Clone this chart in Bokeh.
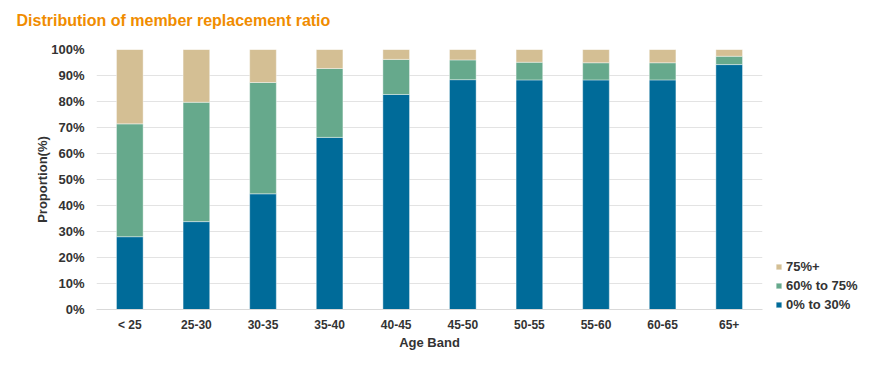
from bokeh.plotting import figure
from bokeh.models import FixedTicker, PrintfTickFormatter, Legend, LegendItem, Title
from bokeh.embed import file_html
from bokeh.resources import INLINE

age_bands = ["< 25", "25-30", "30-35", "35-40", "40-45", "45-50", "50-55", "55-60", "60-65", "65+"]
series_names = ["0% to 30%", "60% to 75%", "75%+"]
low = [28.0, 33.8, 44.5, 66.2, 82.7, 88.4, 88.3, 88.3, 88.3, 94.2]
mid = [43.4, 45.9, 42.8, 26.5, 13.5, 7.6, 6.8, 6.6, 6.6, 3.2]
high = [28.6, 20.3, 12.7, 7.3, 3.8, 4.0, 4.9, 5.1, 5.1, 2.6]
y_ticks = [0, 10, 20, 30, 40, 50, 60, 70, 80, 90, 100]
title_text = "Distribution of member replacement ratio"

colors = ["#006B99", "#66A98C", "#D4BF94"]
FONT = "Liberation Sans"
TXT = "#333333"

p = figure(frame_width=666, frame_height=260, x_range=age_bands, y_range=(0, 100),
           output_backend="svg", toolbar_location=None, title=None,
           min_border_left=96, min_border_right=10, min_border_top=49, min_border_bottom=56)

data = {"band": age_bands, series_names[0]: low, series_names[1]: mid, series_names[2]: high}
rs = p.vbar_stack(series_names, x="band", width=0.4, color=colors, source=data,
                  line_color="white", line_alpha=0.4, line_width=1)

legend = Legend(items=[LegendItem(label=series_names[i], renderers=[rs[i]]) for i in [2, 1, 0]],
                location=(13, -3))
legend.border_line_color = None
legend.background_fill_alpha = 0
legend.label_text_font = FONT
legend.label_text_font_style = "bold"
legend.label_text_font_size = "13px"
legend.label_text_color = TXT
legend.glyph_width = 7
legend.glyph_height = 7
legend.label_standoff = 4
legend.spacing = 3
legend.padding = 0
legend.margin = 0
legend.label_height = 16
p.add_layout(legend, "right")

# spacer between title and plot area
p.add_layout(Title(text=" ", text_font_size="16px", standoff=2), "above")
p.add_layout(Title(text=title_text, text_color="#F08C00", text_font=FONT, text_font_size="16px",
                   text_font_style="bold", offset=-80, standoff=0), "above")

p.yaxis.ticker = FixedTicker(ticks=y_ticks)
p.yaxis.formatter = PrintfTickFormatter(format="%d%%")
p.yaxis.axis_label = "Proportion(%)"
p.xaxis.axis_label = "Age Band"
for ax in (p.xaxis, p.yaxis):
    ax.major_label_text_font = FONT
    ax.major_label_text_font_style = "bold"
    ax.major_label_text_font_size = "13px"
    ax.major_label_text_color = TXT
    ax.axis_label_text_font = FONT
    ax.axis_label_text_font_style = "bold"
    ax.axis_label_text_font_size = "13px"
    ax.axis_label_text_color = TXT
    ax.major_tick_line_color = None
    ax.minor_tick_line_color = None
p.xaxis.major_label_text_font_size = "12px"
p.yaxis.axis_line_color = None
p.xaxis.axis_line_color = "#D9D9D9"
p.xaxis.major_label_standoff = 2
p.yaxis.major_label_standoff = 6
p.xaxis.axis_label_standoff = 0
p.yaxis.axis_label_standoff = -2

p.xgrid.grid_line_color = None
p.ygrid.grid_line_color = "#E3E3E3"
p.outline_line_color = None
p.x_range.range_padding = 0

open("out.html", "w").write(file_html(p, INLINE))
